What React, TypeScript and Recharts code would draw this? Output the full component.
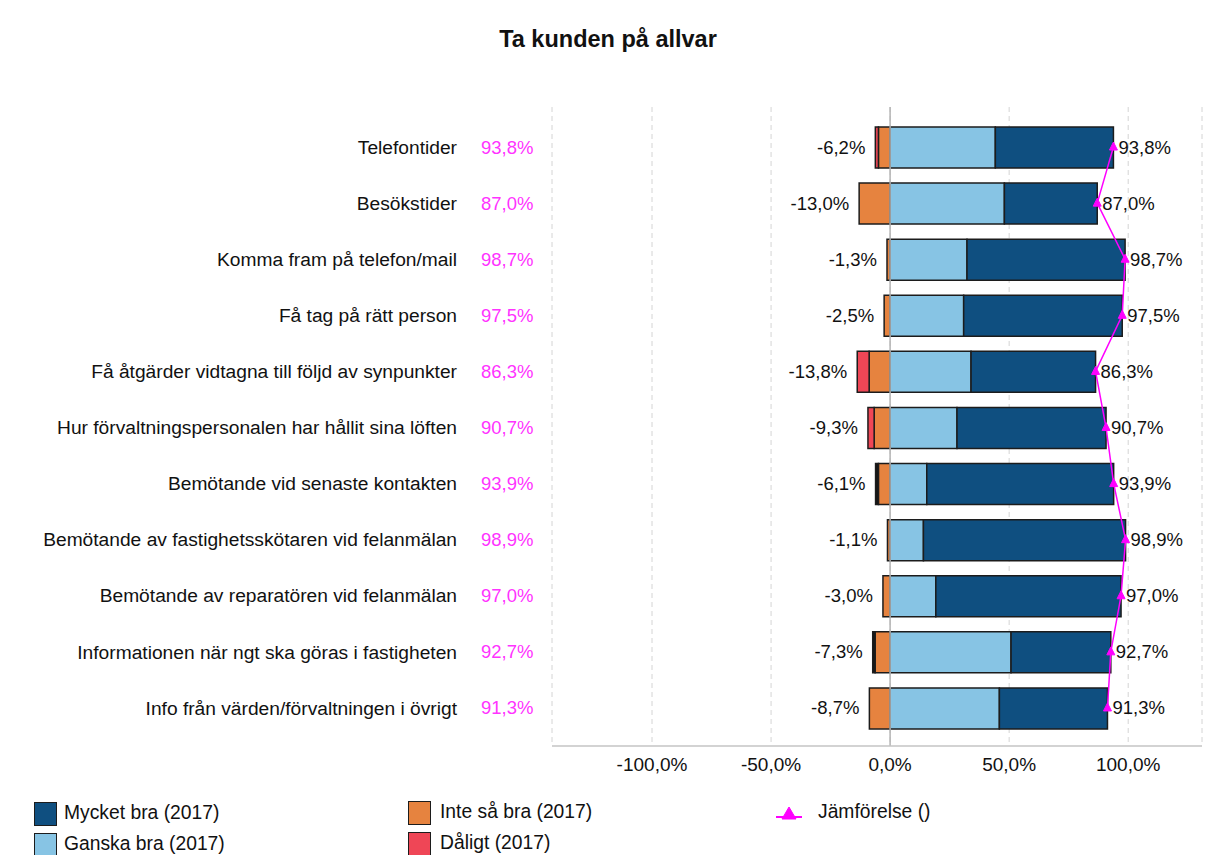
import React from "react";
import {
  ComposedChart,
  Bar,
  Line,
  XAxis,
  YAxis,
  CartesianGrid,
  ReferenceLine,
  LabelList,
} from "recharts";

const categories = [
  "Telefontider",
  "Besökstider",
  "Komma fram på telefon/mail",
  "Få tag på rätt person",
  "Få åtgärder vidtagna till följd av synpunkter",
  "Hur förvaltningspersonalen har hållit sina löften",
  "Bemötande vid senaste kontakten",
  "Bemötande av fastighetsskötaren vid felanmälan",
  "Bemötande av reparatören vid felanmälan",
  "Informationen när ngt ska göras i fastigheten",
  "Info från värden/förvaltningen i övrigt",
];
const mycketBra = [49.6, 39.0, 66.4, 66.6, 52.3, 62.6, 78.5, 84.9, 77.8, 41.9, 45.4];
const ganskaBra = [44.2, 48.0, 32.3, 30.9, 34.0, 28.1, 15.4, 14.0, 19.2, 50.8, 45.9];
const inteSaBra = [-4.9, -13.0, -1.3, -2.5, -8.8, -6.7, -4.9, -1.1, -3.0, -6.3, -8.7];
const daligt = [-1.3, 0, 0, 0, -5.0, -2.6, 0, 0, 0, 0, 0];
const mycketDaligt = [0, 0, 0, 0, 0, 0, -1.2, 0, 0, -1.0, 0];
const jamforelse = [93.8, 87.0, 98.7, 97.5, 86.3, 90.7, 93.9, 98.9, 97.0, 92.7, 91.3];
const negTotal = [-6.2, -13.0, -1.3, -2.5, -13.8, -9.3, -6.1, -1.1, -3.0, -7.3, -8.7];
const xTicks = [-100, -50, 0, 50, 100];

const data = categories.map((name, i) => ({
  name,
  mycketBra: mycketBra[i],
  ganskaBra: ganskaBra[i],
  inteSaBra: inteSaBra[i],
  daligt: daligt[i],
  mycketDaligt: mycketDaligt[i],
  jamforelse: jamforelse[i],
  negTotal: negTotal[i],
}));

const FONT = "'Liberation Sans', Arial, sans-serif";
const C_DARK = "#0f4f80";
const C_LIGHT = "#87c4e4";
const C_ORANGE = "#e6833f";
const C_RED = "#ef4656";
const C_BLACK = "#151515";
const C_MAG = "#ff00ff";
const STROKE = "#1c1c1c";

const fmt = (v: number) => v.toFixed(1).replace(".", ",") + "%";

const YTick = (props: any) => {
  const { x, y, payload, index } = props;
  const val = jamforelse[index];
  return (
    <g>
      <text x={x - 95} y={y} dy="0.35em" textAnchor="end" fontSize={19.2} fontFamily={FONT} fill="#111">
        {payload.value}
      </text>
      <text x={x - 71} y={y} dy="0.35em" textAnchor="start" fontSize={18.5} fontFamily={FONT} fill="#ff33ff">
        {fmt(val)}
      </text>
    </g>
  );
};

const TriDot = (props: any) => {
  const { cx, cy, index } = props;
  if (cx == null || cy == null) return null;
  return (
    <path
      key={"d" + index}
      d={`M${cx - 4},${cy + 3} L${cx + 4},${cy + 3} L${cx},${cy - 5} Z`}
      fill={C_MAG}
      stroke={C_MAG}
      strokeWidth={1}
    />
  );
};

const RightLabel = (props: any) => {
  const { x, y, value } = props;
  return (
    <text x={x + 5} y={y} dy="0.35em" textAnchor="start" fontSize={18.5} fontFamily={FONT} fill="#111">
      {fmt(value)}
    </text>
  );
};

const LeftLabel = (props: any) => {
  const { x, y, value } = props;
  return (
    <text x={x - 10} y={y} dy="0.35em" textAnchor="end" fontSize={18.5} fontFamily={FONT} fill="#111">
      {fmt(value)}
    </text>
  );
};

const legendBox = (color: string) => ({
  position: "absolute" as const,
  width: 21,
  height: 22,
  background: color,
  border: `1.5px solid ${STROKE}`,
});
const legendText = {
  position: "absolute" as const,
  fontFamily: FONT,
  fontSize: 19.3,
  color: "#111",
  whiteSpace: "nowrap" as const,
  lineHeight: "22px",
};

export default function App() {
  return (
    <div style={{ position: "absolute", left: 0, top: 0, width: 1209, height: 855, background: "#fff", overflow: "hidden" }}>
      <div
        style={{
          position: "absolute",
          left: 0,
          top: 26,
          width: 1216,
          textAlign: "center",
          fontFamily: FONT,
          fontWeight: "bold",
          fontSize: 23.5,
          color: "#111",
        }}
      >
        Ta kunden på allvar
      </div>
      <div style={{ position: "absolute", left: 0, top: 0 }}>
        <ComposedChart
          width={1209}
          height={855}
          data={data}
          layout="vertical"
          stackOffset="sign"
          margin={{ top: 107, right: 7, bottom: 0, left: 0 }}
          barSize={41}
        >
          <CartesianGrid horizontal={false} strokeDasharray="5 4" stroke="#d4d4d4" />
          <XAxis
            type="number"
            domain={[-142, 131]}
            ticks={xTicks}
            allowDataOverflow
            height={109}
            tickLine={false}
            tickSize={0}
            tickMargin={12}
            axisLine={{ stroke: "#c4c4c4", strokeWidth: 1.5 }}
            tickFormatter={(v: number) => fmt(v)}
            tick={{ fontSize: 19, fontFamily: FONT, fill: "#111" }}
          />
          <YAxis
            type="category"
            dataKey="name"
            width={552}
            padding={{ top: 12, bottom: 10 }}
            axisLine={false}
            tickLine={false}
            tickSize={0}
            tickMargin={0}
            interval={0}
            tick={<YTick />}
          />
          <ReferenceLine x={0} stroke="#b4b4b4" strokeWidth={1.5} />
          <Bar dataKey="ganskaBra" stackId="s" fill={C_LIGHT} stroke={STROKE} strokeWidth={1.5} isAnimationActive={false} />
          <Bar dataKey="mycketBra" stackId="s" fill={C_DARK} stroke={STROKE} strokeWidth={1.5} isAnimationActive={false} />
          <Bar dataKey="inteSaBra" stackId="s" fill={C_ORANGE} stroke={STROKE} strokeWidth={1.5} isAnimationActive={false} />
          <Bar dataKey="daligt" stackId="s" fill={C_RED} stroke={STROKE} strokeWidth={1.5} isAnimationActive={false} />
          <Bar dataKey="mycketDaligt" stackId="s" fill={C_BLACK} stroke={STROKE} strokeWidth={1.5} isAnimationActive={false} />
          <Line
            dataKey="negTotal"
            stroke="none"
            dot={false}
            activeDot={false}
            isAnimationActive={false}
          >
            <LabelList dataKey="negTotal" content={<LeftLabel />} />
          </Line>
          <Line
            dataKey="jamforelse"
            stroke={C_MAG}
            strokeWidth={1.5}
            dot={(p: any) => <TriDot key={"t" + p.index} {...p} />}
            activeDot={false}
            isAnimationActive={false}
          >
            <LabelList dataKey="jamforelse" content={<RightLabel />} />
          </Line>
        </ComposedChart>
      </div>
      {/* Legend */}
      <div style={{ ...legendBox(C_DARK), left: 34, top: 802 }} />
      <div style={{ ...legendText, left: 64, top: 802 }}>Mycket bra (2017)</div>
      <div style={{ ...legendBox(C_LIGHT), left: 34, top: 833 }} />
      <div style={{ ...legendText, left: 64, top: 833 }}>Ganska bra (2017)</div>
      <div style={{ ...legendBox(C_ORANGE), left: 408, top: 801 }} />
      <div style={{ ...legendText, left: 440, top: 801 }}>Inte så bra (2017)</div>
      <div style={{ ...legendBox(C_RED), left: 408, top: 832 }} />
      <div style={{ ...legendText, left: 440, top: 832 }}>Dåligt (2017)</div>
      <svg style={{ position: "absolute", left: 774, top: 804 }} width={30} height={20}>
        <line x1={2} y1={13} x2={28} y2={13} stroke={C_MAG} strokeWidth={2} />
        <path d="M8,15 L22,15 L15,3 Z" fill={C_MAG} stroke={C_MAG} />
      </svg>
      <div style={{ ...legendText, left: 818, top: 801 }}>Jämförelse ()</div>
    </div>
  );
}
